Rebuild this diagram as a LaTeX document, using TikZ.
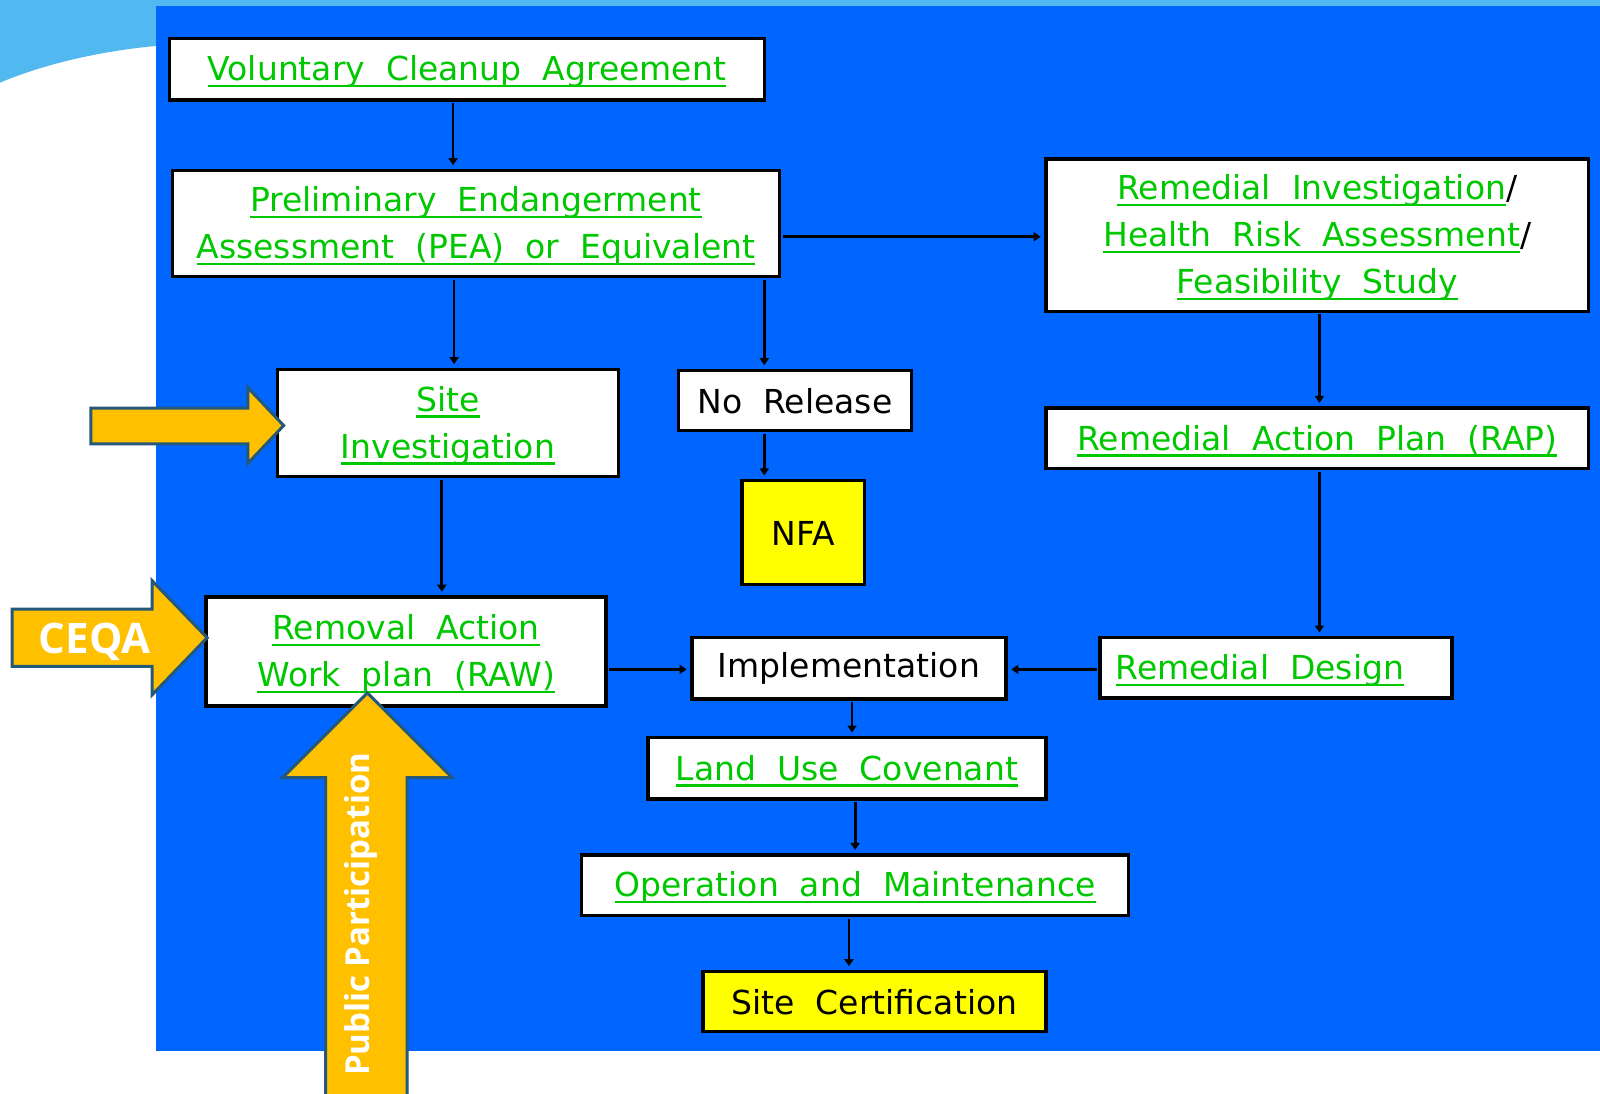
\documentclass[tikz,border=0pt]{standalone}
\usepackage{fontspec}
\setmainfont{DejaVu Sans}
\newfontfamily\osans{Open Sans}
\usetikzlibrary{arrows.meta}
\definecolor{skyb}{HTML}{52B8F0}
\definecolor{panel}{HTML}{0066FF}
\definecolor{lnkgreen}{HTML}{00C800}
\definecolor{orng}{HTML}{FFC000}
\definecolor{arrowedge}{HTML}{24597A}
\definecolor{yel}{HTML}{FFFF00}
\newcommand\gu[1]{\setbox0\hbox{#1}\rlap{\rule[-6.5pt]{\wd0}{2.2pt}}\box0}
\newcommand\slsh{{\color{black}/}}
\tikzset{
 frame/.style={draw=black, line width=3.4pt, fill=white, inner sep=0pt},
 yframe/.style={frame, fill=yel},
 gtxt/.style={inner sep=0pt, align=center, font=\fontsize{33}{47}\selectfont, text=lnkgreen, yshift=-2.5pt},
 btxt/.style={inner sep=0pt, align=center, font=\fontsize{33}{47}\selectfont, text=black, yshift=-0.5pt},
 conn/.style={line width=2.8pt, -{Triangle[length=7pt,width=9pt]}, shorten <=1.5pt, shorten >=3.5pt},
 bigarrow/.style={fill=orng, draw=arrowedge, line width=3pt, line join=miter},
}
\newcommand\mybox[8]{%
 \pgfmathsetmacro\bw{(#4-#2)*1.0204}%
 \pgfmathsetmacro\bh{(#5-#3)*1.0204}%
 \node[#6, minimum width=\bw pt, minimum height=\bh pt] (#1) at ({(#2+#4)/2},{(#3+#5)/2}) {};
 \node[#7] (#1-t) at (#1.center) {#8};}
\begin{document}
\begin{tikzpicture}[x=1.0204pt, y=-1.0204pt]
\useasboundingbox (0,0) rectangle (1568,1071.2);
\fill[white] (0,0) rectangle (1568,1071.2);
\fill[skyb] (0,0) -- (1568,0) -- (1568,6) -- (153,6) -- (153,45) .. controls (100,50) and (45,62) .. (0,81) -- cycle;
\fill[panel] (153,6) rectangle (1568,1029.5);

\mybox{vca}{166}{38}{749}{98}{frame}{gtxt}{\gu{Voluntary~~Cleanup~~Agreement}}
\mybox{pea}{169}{167}{764}{271}{frame}{gtxt}{\gu{Preliminary~~Endangerment}\\\gu{Assessment~~(PEA)~~or~~Equivalent}}
\mybox{ri}{1025}{156}{1557}{305}{frame}{gtxt}{\gu{Remedial~~Investigation}\slsh\\\gu{Health~~Risk~~Assessment}\slsh\\\gu{Feasibility~~Study}}
\mybox{si}{272}{362}{606}{467}{frame}{gtxt}{\gu{Site}\\\gu{Investigation}}
\mybox{nr}{665}{363}{893}{422}{frame}{btxt}{No~~Release}
\mybox{nfa}{727}{471}{847}{573}{yframe}{btxt}{NFA}
\mybox{rap}{1025}{400}{1557}{459}{frame}{gtxt}{\gu{Remedial~~Action~~Plan~~(RAP)}}
\mybox{raw}{202}{585}{594}{692}{frame}{gtxt}{\gu{Removal~~Action}\\\gu{Work~~plan~~(RAW)}}
\mybox{impl}{678}{625}{986}{685}{frame}{btxt}{Implementation}
\mybox{rd}{1078}{625}{1423}{684}{frame}{gtxt}{\makebox[321pt][l]{\gu{Remedial~~Design}}}
\mybox{luc}{635}{723}{1025}{783}{frame}{gtxt}{\gu{Land~~Use~~Covenant}}
\mybox{om}{570}{838}{1106}{897}{frame}{gtxt}{\gu{Operation~~and~~Maintenance}}
\mybox{sc}{689}{952}{1025}{1011}{yframe}{btxt}{Site~~Certification}

\coordinate (x444) at (444,0);
\coordinate (x445) at (445,0);
\coordinate (x749) at (749,0);
\coordinate (x433) at (433,0);
\coordinate (x1293) at (1293,0);
\coordinate (x835) at (835,0);
\coordinate (x838) at (838,0);
\coordinate (x832) at (832,0);
\coordinate (y232) at (0,232);
\coordinate (y656) at (0,656);

\draw[conn] (vca.south -| x444) -- (pea.north -| x444);
\draw[conn] (pea.south -| x445) -- (si.north -| x445);
\draw[conn] (pea.south -| x749) -- (nr.north -| x749);
\draw[conn] (pea.east |- y232) -- (ri.west |- y232);
\draw[conn] (nr.south -| x749) -- (nfa.north -| x749);
\draw[conn] (si.south -| x433) -- (raw.north -| x433);
\draw[conn] (ri.south -| x1293) -- (rap.north -| x1293);
\draw[conn] (rap.south -| x1293) -- (rd.north -| x1293);
\draw[conn] (raw.east |- y656) -- (impl.west |- y656);
\draw[conn] (rd.west |- y656) -- (impl.east |- y656);
\draw[conn] (impl.south -| x835) -- (luc.north -| x835);
\draw[conn] (luc.south -| x838) -- (om.north -| x838);
\draw[conn] (om.south -| x832) -- (sc.north -| x832);

\draw[bigarrow] (89,400) -- (243,400) -- (243,380) -- (278,417) -- (243,454) -- (243,435) -- (89,435) -- cycle;
\draw[bigarrow] (12,597) -- (149,597) -- (149,569) -- (203,625) -- (149,681) -- (149,653) -- (12,653) -- cycle;
\node[font=\osans\bfseries\fontsize{42}{42}\selectfont, text=white, anchor=base, inner sep=0pt] (ceqa) at (93,640) {CEQA};
\draw[bigarrow] (319,1080) -- (319,762) -- (277,762) -- (360,679) -- (443,762) -- (399,762) -- (399,1080) -- cycle;
\node[font=\osans\bfseries\fontsize{33}{33}\selectfont, text=white, anchor=base, inner sep=0pt, rotate=90] (pp) at (362,896) {Public Participation};
\end{tikzpicture}
\end{document}
